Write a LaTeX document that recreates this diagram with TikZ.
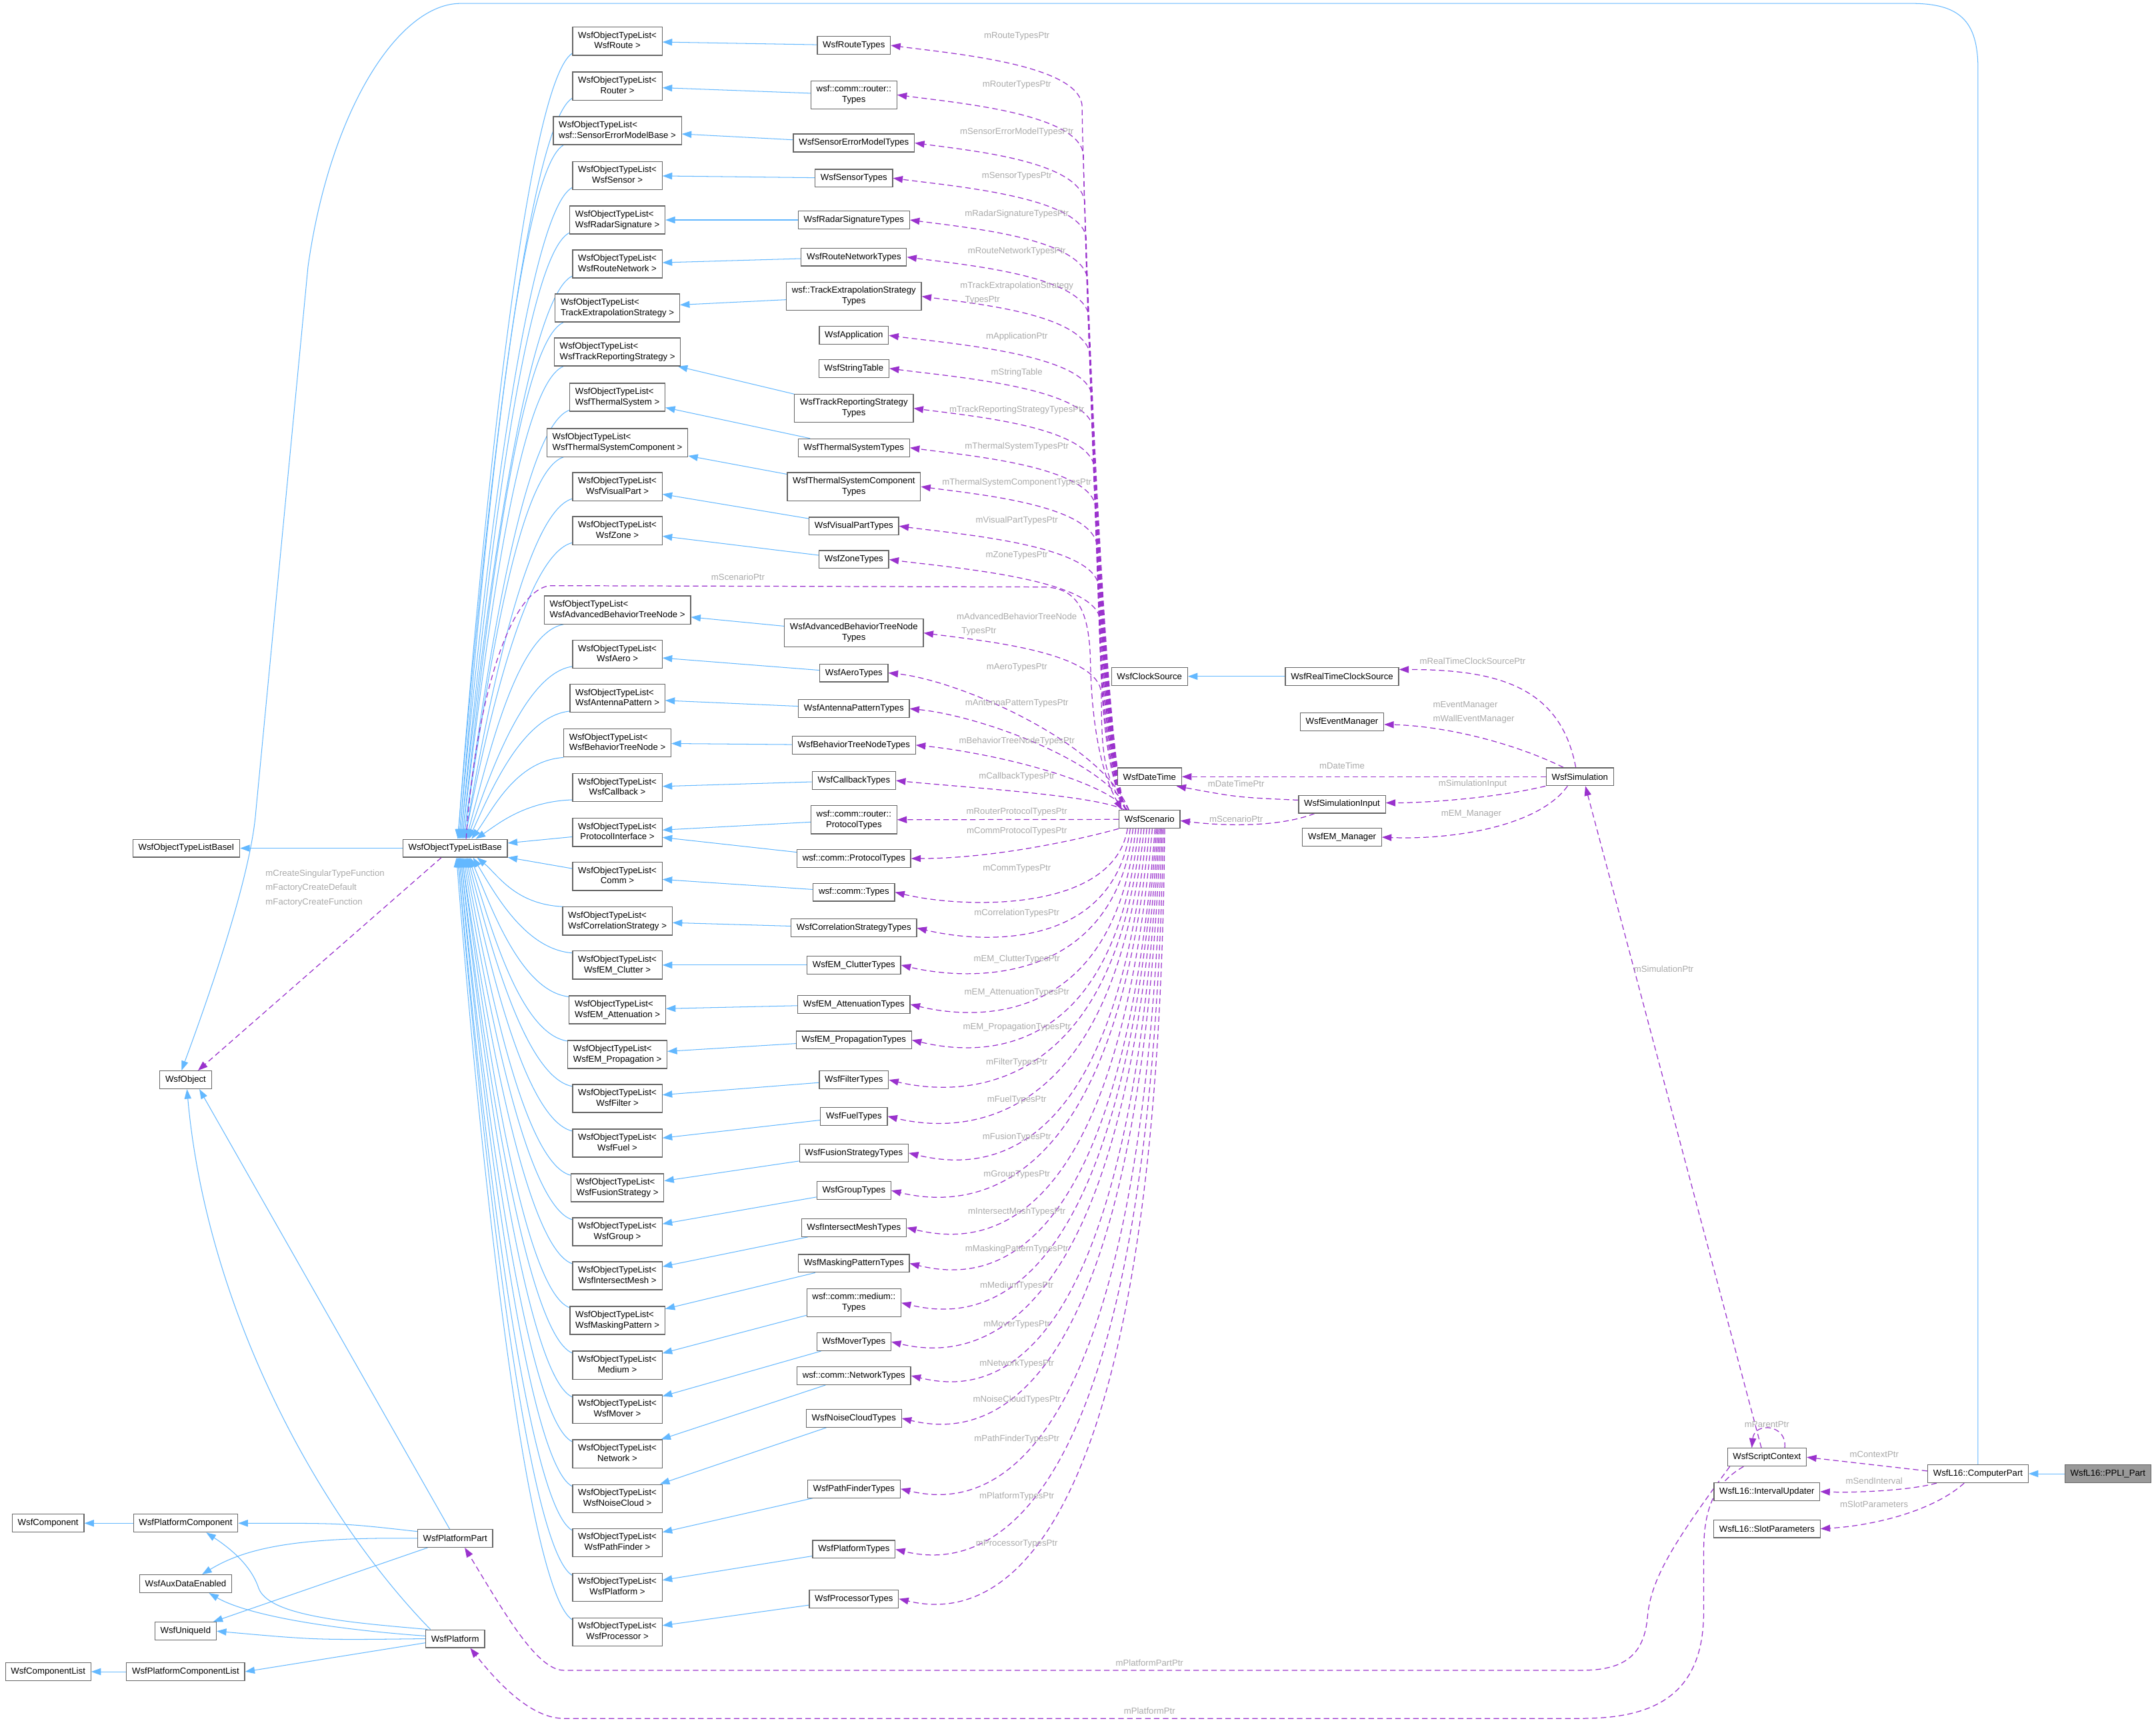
\documentclass[tikz,border=0pt]{standalone}
\usepackage{fontspec}
\setmainfont{Liberation Sans}
\usetikzlibrary{arrows.meta,calc}

\definecolor{inhblue}{HTML}{63B8FF}
\definecolor{memberpurple}{HTML}{9A32CD}
\definecolor{boxgray}{HTML}{666666}
\definecolor{lblgray}{HTML}{AAAAAA}
\definecolor{rootgray}{HTML}{999999}

\pgfdeclarelayer{bg}
\pgfdeclarelayer{edges}
\pgfsetlayers{bg,edges,main}

% template names: first line left, second line centred
\newcommand\twoln[2]{\begin{tabular}{@{}l@{}}#1\\\multicolumn{1}{@{}c@{}}{#2}\end{tabular}}

\begin{document}
\begin{tikzpicture}[
  x=1pt, y=-1pt,
  cls/.style={draw=boxgray, fill=white, line width=0.6pt,
    font=\fontsize{6.4}{7.7}\selectfont, inner xsep=4pt, inner ysep=2.5pt,
    minimum height=13pt},
  root/.style={cls, fill=rootgray},
  inherit/.style={draw=inhblue, line width=0.5pt, -{Triangle[length=7pt,width=5pt]}},
  member/.style={draw=memberpurple, line width=0.6pt, dash pattern=on 4pt off 2.5pt,
    -{Triangle[length=7pt,width=5pt]}},
  lbl/.style={text=lblgray, font=\fontsize{6.4}{10.3}\selectfont, inner sep=0pt, align=left},
  tobase/.style={to path={let \p1=(\tikztostart), \p2=(\tikztotarget) in
    .. controls ({\x1-35pt},{\y1+0.04*(\y2-\y1)}) and ({\x2+15pt},{\y2+0.35*(\y1-\y2)})
    .. (\tikztotarget) \tikztonodes}},
  fromtop/.style={to path={let \p1=(\tikztostart), \p2=(\tikztotarget) in
    .. controls ({\x1-16pt},{\y1+25pt}) and (#1pt,{\y2-90pt}) .. (#1pt,{\y2-45pt})
    .. controls (#1pt,{\y2-14pt}) and ({\x2+45pt},{\y2-6pt}) .. (\tikztotarget) \tikztonodes}},
  fromnear/.style={to path={let \p1=(\tikztostart), \p2=(\tikztotarget) in
    .. controls ({\x1-20pt},{\y1+0.5*(\y2-\y1)}) and ({\x2+50pt},{\y2-5pt})
    .. (\tikztotarget) \tikztonodes}},
  frombelow/.style={to path={let \p1=(\tikztostart), \p2=(\tikztotarget) in
    .. controls ({\x1-#1pt},{\y2-15pt}) and ({\x2+50pt},{\y2-12pt})
    .. (\tikztotarget) \tikztonodes}},
  frombelow/.default=5,
]
  \begin{pgfonlayer}{bg}
    \path[use as bounding box, fill=white] (0,0) rectangle (1568,1253);
  \end{pgfonlayer}

  % Object type list templates
  \node[cls] (tRoute)     at (449,30)    {\twoln{WsfObjectTypeList<}{WsfRoute >}};
  \node[cls] (tRouter)    at (449,62.6)  {\twoln{WsfObjectTypeList<}{Router >}};
  \node[cls] (tSensErr)   at (449,95)    {\twoln{WsfObjectTypeList<}{wsf::SensorErrorModelBase >}};
  \node[cls] (tSensor)    at (449,127.6) {\twoln{WsfObjectTypeList<}{WsfSensor >}};
  \node[cls] (tRadar)     at (449,160)   {\twoln{WsfObjectTypeList<}{WsfRadarSignature >}};
  \node[cls] (tRouteNet)  at (449,192)   {\twoln{WsfObjectTypeList<}{WsfRouteNetwork >}};
  \node[cls] (tTrackExt)  at (449,224)   {\twoln{WsfObjectTypeList<}{TrackExtrapolationStrategy >}};
  \node[cls] (tTrackRep)  at (449,256)   {\twoln{WsfObjectTypeList<}{WsfTrackReportingStrategy >}};
  \node[cls] (tThermal)   at (449,289)   {\twoln{WsfObjectTypeList<}{WsfThermalSystem >}};
  \node[cls] (tThermComp) at (449,322)   {\twoln{WsfObjectTypeList<}{WsfThermalSystemComponent >}};
  \node[cls] (tVisual)    at (449,354)   {\twoln{WsfObjectTypeList<}{WsfVisualPart >}};
  \node[cls] (tZone)      at (449,386)   {\twoln{WsfObjectTypeList<}{WsfZone >}};
  \node[cls] (tAdvBTN)    at (449,443.7) {\twoln{WsfObjectTypeList<}{WsfAdvancedBehaviorTreeNode >}};
  \node[cls] (tAero)      at (449,476)   {\twoln{WsfObjectTypeList<}{WsfAero >}};
  \node[cls] (tAntenna)   at (449,508)   {\twoln{WsfObjectTypeList<}{WsfAntennaPattern >}};
  \node[cls] (tBTN)       at (449,540.5) {\twoln{WsfObjectTypeList<}{WsfBehaviorTreeNode >}};
  \node[cls] (tCallback)  at (449,573)   {\twoln{WsfObjectTypeList<}{WsfCallback >}};
  \node[cls] (tProtoIf)   at (449,605.5) {\twoln{WsfObjectTypeList<}{ProtocolInterface >}};
  \node[cls] (tComm)      at (449,637.5) {\twoln{WsfObjectTypeList<}{Comm >}};
  \node[cls] (tCorr)      at (449,670)   {\twoln{WsfObjectTypeList<}{WsfCorrelationStrategy >}};
  \node[cls] (tClutter)   at (449,702)   {\twoln{WsfObjectTypeList<}{WsfEM\_Clutter >}};
  \node[cls] (tAtten)     at (449,734.5) {\twoln{WsfObjectTypeList<}{WsfEM\_Attenuation >}};
  \node[cls] (tPropag)    at (449,767)   {\twoln{WsfObjectTypeList<}{WsfEM\_Propagation >}};
  \node[cls] (tFilter)    at (449,799)   {\twoln{WsfObjectTypeList<}{WsfFilter >}};
  \node[cls] (tFuel)      at (449,831.5) {\twoln{WsfObjectTypeList<}{WsfFuel >}};
  \node[cls] (tFusion)    at (449,864)   {\twoln{WsfObjectTypeList<}{WsfFusionStrategy >}};
  \node[cls] (tGroup)     at (449,896)   {\twoln{WsfObjectTypeList<}{WsfGroup >}};
  \node[cls] (tInterMesh) at (449,928)   {\twoln{WsfObjectTypeList<}{WsfIntersectMesh >}};
  \node[cls] (tMasking)   at (449,960.5) {\twoln{WsfObjectTypeList<}{WsfMaskingPattern >}};
  \node[cls] (tMedium)    at (449,993)   {\twoln{WsfObjectTypeList<}{Medium >}};
  \node[cls] (tMover)     at (449,1025)  {\twoln{WsfObjectTypeList<}{WsfMover >}};
  \node[cls] (tNetwork)   at (449,1057.5){\twoln{WsfObjectTypeList<}{Network >}};
  \node[cls] (tNoise)     at (449,1090)  {\twoln{WsfObjectTypeList<}{WsfNoiseCloud >}};
  \node[cls] (tPathFind)  at (449,1122)  {\twoln{WsfObjectTypeList<}{WsfPathFinder >}};
  \node[cls] (tPlatform)  at (449,1154.7){\twoln{WsfObjectTypeList<}{WsfPlatform >}};
  \node[cls] (tProcessor) at (449,1187)  {\twoln{WsfObjectTypeList<}{WsfProcessor >}};

  % Type registries owned by the scenario
  \node[cls] (yRoute)       at (621,33)     {WsfRouteTypes};
  \node[cls] (yRouter)      at (621,69)     {\twoln{wsf::comm::router::}{Types}};
  \node[cls] (ySensErr)     at (621,104)    {WsfSensorErrorModelTypes};
  \node[cls] (ySensor)      at (621,129.6)  {WsfSensorTypes};
  \node[cls] (yRadar)       at (621,160)    {WsfRadarSignatureTypes};
  \node[cls] (yRouteNet)    at (621,187)    {WsfRouteNetworkTypes};
  \node[cls] (yTrackExt)    at (621,215.6)  {\twoln{wsf::TrackExtrapolationStrategy}{Types}};
  \node[cls] (yApp)         at (621,244)    {WsfApplication};
  \node[cls] (yString)      at (621,268)    {WsfStringTable};
  \node[cls] (yTrackRep)    at (621,297)    {\twoln{WsfTrackReportingStrategy}{Types}};
  \node[cls] (yThermal)     at (621,325.7)  {WsfThermalSystemTypes};
  \node[cls] (yThermComp)   at (621,354)    {\twoln{WsfThermalSystemComponent}{Types}};
  \node[cls] (yVisual)      at (621,382.7)  {WsfVisualPartTypes};
  \node[cls] (yZone)        at (621,407)    {WsfZoneTypes};
  \node[cls] (yAdvBTN)      at (621,460.4)  {\twoln{WsfAdvancedBehaviorTreeNode}{Types}};
  \node[cls] (yAero)        at (621,489.5)  {WsfAeroTypes};
  \node[cls] (yAntenna)     at (621,515.5)  {WsfAntennaPatternTypes};
  \node[cls] (yBTN)         at (621,542)    {WsfBehaviorTreeNodeTypes};
  \node[cls] (yCallback)    at (621,567.8)  {WsfCallbackTypes};
  \node[cls] (yRouterProto) at (621,596.3)  {\twoln{wsf::comm::router::}{ProtocolTypes}};
  \node[cls] (yCommProto)   at (621,624.5)  {wsf::comm::ProtocolTypes};
  \node[cls] (yComm)        at (621,649)    {wsf::comm::Types};
  \node[cls] (yCorr)        at (621,675)    {WsfCorrelationStrategyTypes};
  \node[cls] (yClutter)     at (621,702)    {WsfEM\_ClutterTypes};
  \node[cls] (yAtten)       at (621,730.6)  {WsfEM\_AttenuationTypes};
  \node[cls] (yPropag)      at (621,756.5)  {WsfEM\_PropagationTypes};
  \node[cls] (yFilter)      at (621,785.5)  {WsfFilterTypes};
  \node[cls] (yFuel)        at (621,812)    {WsfFuelTypes};
  \node[cls] (yFusion)      at (621,838.7)  {WsfFusionStrategyTypes};
  \node[cls] (yGroup)       at (621,866)    {WsfGroupTypes};
  \node[cls] (yInterMesh)   at (621,893)    {WsfIntersectMeshTypes};
  \node[cls] (yMasking)     at (621,919)    {WsfMaskingPatternTypes};
  \node[cls] (yMedium)      at (621,947.7)  {\twoln{wsf::comm::medium::}{Types}};
  \node[cls] (yMover)       at (621,976)    {WsfMoverTypes};
  \node[cls] (yNetwork)     at (621,1000.7) {wsf::comm::NetworkTypes};
  \node[cls] (yNoise)       at (621,1031.7) {WsfNoiseCloudTypes};
  \node[cls] (yPathFind)    at (621,1083)   {WsfPathFinderTypes};
  \node[cls] (yPlatform)    at (621,1127)   {WsfPlatformTypes};
  \node[cls] (yProcessor)   at (621,1163)   {WsfProcessorTypes};

  % Base classes on the left
  \node[cls] (base)   at (331,617)    {WsfObjectTypeListBase};
  \node[cls] (baseI)  at (135.5,617)  {WsfObjectTypeListBaseI};
  \node[cls] (obj)    at (135,785.5)  {WsfObject};
  \node[cls] (comp)   at (35,1108)    {WsfComponent};
  \node[cls] (pcomp)  at (135,1108)   {WsfPlatformComponent};
  \node[cls] (ppart)  at (331,1119)   {WsfPlatformPart};
  \node[cls] (aux)    at (135,1152)   {WsfAuxDataEnabled};
  \node[cls] (uid)    at (135,1186.5) {WsfUniqueId};
  \node[cls] (plat)   at (331,1192)   {WsfPlatform};
  \node[cls] (clist)  at (35,1216)    {WsfComponentList};
  \node[cls] (pclist) at (135,1216)   {WsfPlatformComponentList};

  % Scenario and simulation
  \node[cls] (scen)    at (836,596) {WsfScenario};
  \node[cls] (clock)   at (836,492) {WsfClockSource};
  \node[cls] (rtclock) at (976,492) {WsfRealTimeClockSource};
  \node[cls] (evmgr)   at (976,525) {WsfEventManager};
  \node[cls] (dtime)   at (836,565) {WsfDateTime};
  \node[cls] (sim)     at (1149,565) {WsfSimulation};
  \node[cls] (siminp)  at (976,585) {WsfSimulationInput};
  \node[cls] (emmgr)   at (976,609) {WsfEM\_Manager};

  % Link 16 parts
  \node[cls]  (sctx)  at (1285,1060)   {WsfScriptContext};
  \node[cls]  (cpart) at (1438.5,1072) {WsfL16::ComputerPart};
  \node[root] (ppli)  at (1533,1072)   {WsfL16::PPLI\_Part};
  \node[cls]  (ivupd) at (1285,1085)   {WsfL16::IntervalUpdater};
  \node[cls]  (slotp) at (1285,1112)   {WsfL16::SlotParameters};

  \begin{pgfonlayer}{edges}
  % Types -> templates
  \draw[inherit] (yRoute) -- (tRoute);
  \draw[inherit] (yRouter) -- (tRouter);
  \draw[inherit] (ySensErr) -- (tSensErr);
  \draw[inherit] (ySensor) -- (tSensor);
  \draw[inherit] (yRadar) -- (tRadar);
  \draw[inherit] (yRouteNet) -- (tRouteNet);
  \draw[inherit] (yTrackExt) -- (tTrackExt);
  \draw[inherit] (yTrackRep) -- (tTrackRep);
  \draw[inherit] (yThermal) -- (tThermal);
  \draw[inherit] (yThermComp) -- (tThermComp);
  \draw[inherit] (yVisual) -- (tVisual);
  \draw[inherit] (yZone) -- (tZone);
  \draw[inherit] (yAdvBTN) -- (tAdvBTN);
  \draw[inherit] (yAero) -- (tAero);
  \draw[inherit] (yAntenna) -- (tAntenna);
  \draw[inherit] (yBTN) -- (tBTN);
  \draw[inherit] (yCallback) -- (tCallback);
  \draw[inherit] (yRouterProto) -- (tProtoIf);
  \draw[inherit] (yCommProto) -- (tProtoIf);
  \draw[inherit] (yComm) -- (tComm);
  \draw[inherit] (yCorr) -- (tCorr);
  \draw[inherit] (yClutter) -- (tClutter);
  \draw[inherit] (yAtten) -- (tAtten);
  \draw[inherit] (yPropag) -- (tPropag);
  \draw[inherit] (yFilter) -- (tFilter);
  \draw[inherit] (yFuel) -- (tFuel);
  \draw[inherit] (yFusion) -- (tFusion);
  \draw[inherit] (yGroup) -- (tGroup);
  \draw[inherit] (yInterMesh) -- (tInterMesh);
  \draw[inherit] (yMasking) -- (tMasking);
  \draw[inherit] (yMedium) -- (tMedium);
  \draw[inherit] (yMover) -- (tMover);
  \draw[inherit] (yNetwork) -- (tNetwork);
  \draw[inherit] (yNoise) -- (tNoise);
  \draw[inherit] (yPathFind) -- (tPathFind);
  \draw[inherit] (yPlatform) -- (tPlatform);
  \draw[inherit] (yProcessor) -- (tProcessor);

  % Templates -> WsfObjectTypeListBase
  \draw[inherit] (tRoute.195) to[tobase] ([xshift=2]base.north);
  \draw[inherit] (tRouter.195) to[tobase] ([xshift=2]base.north);
  \draw[inherit] (tSensErr.195) to[tobase] ([xshift=3]base.north);
  \draw[inherit] (tSensor.195) to[tobase] ([xshift=3]base.north);
  \draw[inherit] (tRadar.195) to[tobase] ([xshift=4]base.north);
  \draw[inherit] (tRouteNet.195) to[tobase] ([xshift=4]base.north);
  \draw[inherit] (tTrackExt.195) to[tobase] ([xshift=5]base.north);
  \draw[inherit] (tTrackRep.195) to[tobase] ([xshift=5]base.north);
  \draw[inherit] (tThermal.195) to[tobase] ([xshift=6]base.north);
  \draw[inherit] (tThermComp.195) to[tobase] ([xshift=6]base.north);
  \draw[inherit] (tVisual.195) to[tobase] ([xshift=7]base.north);
  \draw[inherit] (tZone.195) to[tobase] ([xshift=7]base.north);
  \draw[inherit] (tAdvBTN.195) to[tobase] ([xshift=8]base.north);
  \draw[inherit] (tAero.195) to[tobase] ([xshift=9]base.north);
  \draw[inherit] (tAntenna.195) to[tobase] ([xshift=10]base.north);
  \draw[inherit] (tBTN.195) to[tobase] ([xshift=12]base.north);
  \draw[inherit] (tCallback.195) to[tobase] ([xshift=15]base.north);
  \draw[inherit] (tProtoIf) -- (base);
  \draw[inherit] (tComm) -- (base);
  \draw[inherit] (tCorr.165) to[tobase] ([xshift=16]base.south);
  \draw[inherit] (tClutter.165) to[tobase] ([xshift=13]base.south);
  \draw[inherit] (tAtten.165) to[tobase] ([xshift=11]base.south);
  \draw[inherit] (tPropag.165) to[tobase] ([xshift=10]base.south);
  \draw[inherit] (tFilter.165) to[tobase] ([xshift=9]base.south);
  \draw[inherit] (tFuel.165) to[tobase] ([xshift=8]base.south);
  \draw[inherit] (tFusion.165) to[tobase] ([xshift=7]base.south);
  \draw[inherit] (tGroup.165) to[tobase] ([xshift=6]base.south);
  \draw[inherit] (tInterMesh.165) to[tobase] ([xshift=5]base.south);
  \draw[inherit] (tMasking.165) to[tobase] ([xshift=5]base.south);
  \draw[inherit] (tMedium.165) to[tobase] ([xshift=4]base.south);
  \draw[inherit] (tMover.165) to[tobase] ([xshift=4]base.south);
  \draw[inherit] (tNetwork.165) to[tobase] ([xshift=3]base.south);
  \draw[inherit] (tNoise.165) to[tobase] ([xshift=3]base.south);
  \draw[inherit] (tPathFind.165) to[tobase] ([xshift=2]base.south);
  \draw[inherit] (tPlatform.165) to[tobase] ([xshift=2]base.south);
  \draw[inherit] (tProcessor.165) to[tobase] ([xshift=1]base.south);

  % Other inheritance
  \draw[inherit] (base) -- (baseI);
  \draw[inherit] (rtclock) -- (clock);
  \draw[inherit] (ppli) -- (cpart);
  \draw[inherit] (pcomp) -- (comp);
  \draw[inherit] (pclist) -- (clist);
  \draw[inherit] (cpart.north) -- (1438.5,50) .. controls (1438.5,15) and (1425,2.5) .. (1390,2.5)
    -- (335,2.5) .. controls (290,2.5) and (240,80) .. (224,194) -- (186,591)
    .. controls (182,640) and (150,730) .. ([xshift=-3]obj.north);
  \draw[inherit] ([xshift=-4]ppart.north) -- ([xshift=10]obj.south);
  \draw[inherit] ([xshift=-18]plat.north) .. controls (230,1100) and (150,950) .. ([xshift=1]obj.south);
  \draw[inherit] ([yshift=5]ppart.west) .. controls (250,1108) .. (pcomp.east);
  \draw[inherit] (ppart.west) .. controls (220,1118) and (180,1125) .. ([xshift=12]aux.north);
  \draw[inherit] ([xshift=-20]ppart.south) -- ([xshift=20]uid.north);
  \draw[inherit] ([xshift=-20]plat.north) .. controls (250,1180) and (195,1175) .. (188,1155)
    .. controls (183,1140) and (170,1128) .. ([xshift=15]pcomp.south);
  \draw[inherit] ([yshift=2]plat.west) .. controls (240,1185) and (180,1175) .. ([xshift=17]aux.south);
  \draw[inherit] (plat.west) .. controls (230,1193) .. (uid.east);
  \draw[inherit] ([yshift=-3]plat.west) -- (pclist.east);

  % Scenario members
  \draw[member] ([xshift=-17]scen.north) to[fromtop=787] (yRoute.east);
  \draw[member] ([xshift=-17]scen.north) to[fromtop=788] (yRouter.east);
  \draw[member] ([xshift=-17]scen.north) to[fromtop=789] (ySensErr.east);
  \draw[member] ([xshift=-17]scen.north) to[fromtop=790] (ySensor.east);
  \draw[member] ([xshift=-17]scen.north) to[fromtop=791] (yRadar.east);
  \draw[member] ([xshift=-17]scen.north) to[fromtop=792] (yRouteNet.east);
  \draw[member] ([xshift=-17]scen.north) to[fromtop=793] (yTrackExt.east);
  \draw[member] ([xshift=-17]scen.north) to[fromtop=794] (yApp.east);
  \draw[member] ([xshift=-17]scen.north) to[fromtop=795] (yString.east);
  \draw[member] ([xshift=-17]scen.north) to[fromtop=796] (yTrackRep.east);
  \draw[member] ([xshift=-17]scen.north) to[fromtop=797] (yThermal.east);
  \draw[member] ([xshift=-17]scen.north) to[fromtop=798] (yThermComp.east);
  \draw[member] ([xshift=-17]scen.north) to[fromtop=799] (yVisual.east);
  \draw[member] ([xshift=-17]scen.north) to[fromtop=800] (yZone.east);
  \draw[member] ([xshift=-17]scen.north) to[fromtop=801] (yAdvBTN.east);
  \draw[member] ([xshift=-15]scen.north) to[fromnear] (yAero.east);
  \draw[member] ([xshift=-15]scen.north) to[fromnear] (yAntenna.east);
  \draw[member] ([xshift=-16]scen.north) to[fromnear] (yBTN.east);
  \draw[member] ([xshift=-18]scen.north) to[fromnear] (yCallback.east);
  \draw[member] (scen) -- (yRouterProto);
  \draw[member] (scen.south west) .. controls (780,612) and (720,624.5) .. (yCommProto.east);
  \draw[member] ([xshift=-16]scen.south) to[frombelow=10] (yComm.east);
  \draw[member] ([xshift=-14]scen.south) to[frombelow=12] (yCorr.east);
  \draw[member] ([xshift=-12]scen.south) to[frombelow=14] (yClutter.east);
  \draw[member] ([xshift=-10]scen.south) to[frombelow=16] (yAtten.east);
  \draw[member] ([xshift=-8]scen.south) to[frombelow=18] (yPropag.east);
  \draw[member] ([xshift=-6]scen.south) to[frombelow=20] (yFilter.east);
  \draw[member] ([xshift=-4]scen.south) to[frombelow=22] (yFuel.east);
  \draw[member] ([xshift=-2]scen.south) to[frombelow=24] (yFusion.east);
  \draw[member] (scen.south) to[frombelow=25] (yGroup.east);
  \draw[member] ([xshift=2]scen.south) to[frombelow=26] (yInterMesh.east);
  \draw[member] ([xshift=4]scen.south) to[frombelow=26] (yMasking.east);
  \draw[member] ([xshift=5]scen.south) to[frombelow=25] (yMedium.east);
  \draw[member] ([xshift=6]scen.south) to[frombelow=22] (yMover.east);
  \draw[member] ([xshift=7]scen.south) to[frombelow=20] (yNetwork.east);
  \draw[member] ([xshift=8]scen.south) to[frombelow=17] (yNoise.east);
  \draw[member] ([xshift=9]scen.south) to[frombelow=13] (yPathFind.east);
  \draw[member] ([xshift=10]scen.south) to[frombelow=9] (yPlatform.east);
  \draw[member] ([xshift=11]scen.south) to[frombelow] (yProcessor.east);

  % Other members
  \draw[member] ([xshift=8]base.north) .. controls (345,520) and (368,430) .. (400,426) -- (760,427)
    .. controls (784,428) and (792,445) .. (793,480) .. controls (794,540) and (805,570) .. ([xshift=-20]scen.north);
  \draw[member] ([xshift=-10]base.south) -- ([xshift=9]obj.north);
  \draw[member] ([xshift=-3]sim.north) .. controls (1135,500) and (1090,487) .. ([yshift=5]rtclock.east);
  \draw[member] ([xshift=-12]sim.north) .. controls (1100,540) and (1050,528) .. ([yshift=-2]evmgr.east);
  \draw[member] (sim) -- (dtime);
  \draw[member] ([xshift=-25]sim.south) .. controls (1090,580) and (1040,584) .. ([yshift=1]siminp.east);
  \draw[member] ([xshift=-9]sim.south) .. controls (1120,600) and (1060,611) .. (emmgr.east);
  \draw[member] ([yshift=3]siminp.west) .. controls (900,580) .. ([xshift=-4]dtime.south east);
  \draw[member] ([xshift=-20]siminp.south) .. controls (935,600) and (900,602) .. ([yshift=-1]scen.east);
  \draw[member] ([xshift=-4]sctx.north) -- ([xshift=4]sim.south);
  \draw[member] ([xshift=13]sctx.north) .. controls (1300,1036) and (1276,1034) .. ([xshift=-11]sctx.north);
  \draw[member] ([yshift=2]cpart.west) -- (sctx.east);
  \draw[member] ([xshift=-30]cpart.south) .. controls (1390,1084) and (1350,1086) .. (ivupd.east);
  \draw[member] ([xshift=-10]cpart.south) .. controls (1405,1100) and (1360,1110) .. (slotp.east);
  \draw[member] ([xshift=2]sctx.south west) .. controls (1215,1125) and (1200,1150) .. (1198,1178)
    .. controls (1195,1205) and (1180,1215) .. (1150,1215) -- (410,1215)
    .. controls (390,1215) and (365,1170) .. ([xshift=7]ppart.south);
  \draw[member] ([xshift=12]sctx.south west) .. controls (1245,1080) and (1239,1100) .. (1239,1130)
    -- (1239,1175) .. controls (1238,1235) and (1200,1250) .. (1150,1250) -- (410,1250)
    .. controls (388,1250) and (365,1228) .. ([xshift=11]plat.south);
  \end{pgfonlayer}

  % Member labels
  \node[lbl] (lRoute)       at (739.5,26.4)  {mRouteTypesPtr};
  \node[lbl] (lRouter)      at (739.5,61.9)  {mRouterTypesPtr};
  \node[lbl] (lSensErr)     at (739.5,96)    {mSensorErrorModelTypesPtr};
  \node[lbl] (lSensor)      at (739.5,128)   {mSensorTypesPtr};
  \node[lbl] (lRadar)       at (739.5,155.8) {mRadarSignatureTypesPtr};
  \node[lbl] (lRouteNet)    at (739.5,182.6) {mRouteNetworkTypesPtr};
  \node[lbl] (lTrackExt)    at (739.5,213)   {mTrackExtrapolationStrategy\\\hspace*{3.5pt}TypesPtr};
  \node[lbl] (lApp)         at (739.5,245)   {mApplicationPtr};
  \node[lbl] (lString)      at (739.5,271)   {mStringTable};
  \node[lbl] (lTrackRep)    at (739.5,298)   {mTrackReportingStrategyTypesPtr};
  \node[lbl] (lThermal)     at (739.5,325.1) {mThermalSystemTypesPtr};
  \node[lbl] (lThermComp)   at (739.5,350.9) {mThermalSystemComponentTypesPtr};
  \node[lbl] (lVisual)      at (739.5,378.5) {mVisualPartTypesPtr};
  \node[lbl] (lZone)        at (739.5,404.2) {mZoneTypesPtr};
  \node[lbl] (lAdvBTN)      at (739.5,454)   {mAdvancedBehaviorTreeNode\\\hspace*{3.5pt}TypesPtr};
  \node[lbl] (lAero)        at (739.5,485.7) {mAeroTypesPtr};
  \node[lbl] (lAntenna)     at (739.5,511.9) {mAntennaPatternTypesPtr};
  \node[lbl] (lBTN)         at (739.5,539.2) {mBehaviorTreeNodeTypesPtr};
  \node[lbl] (lCallback)    at (739.5,564.8) {mCallbackTypesPtr};
  \node[lbl] (lRouterProto) at (739.5,590.5) {mRouterProtocolTypesPtr};
  \node[lbl] (lCommProto)   at (739.5,604.6) {mCommProtocolTypesPtr};
  \node[lbl] (lComm)        at (739.5,631.8) {mCommTypesPtr};
  \node[lbl] (lCorr)        at (739.5,664.2) {mCorrelationTypesPtr};
  \node[lbl] (lClutter)     at (739.5,697.8) {mEM\_ClutterTypesPtr};
  \node[lbl] (lAtten)       at (739.5,721.9) {mEM\_AttenuationTypesPtr};
  \node[lbl] (lPropag)      at (739.5,747.3) {mEM\_PropagationTypesPtr};
  \node[lbl] (lFilter)      at (739.5,772.8) {mFilterTypesPtr};
  \node[lbl] (lFuel)        at (739.5,800)   {mFuelTypesPtr};
  \node[lbl] (lFusion)      at (739.5,827.2) {mFusionTypesPtr};
  \node[lbl] (lGroup)       at (739.5,854.3) {mGroupTypesPtr};
  \node[lbl] (lInterMesh)   at (739.5,881.5) {mIntersectMeshTypesPtr};
  \node[lbl] (lMasking)     at (739.5,908.6) {mMaskingPatternTypesPtr};
  \node[lbl] (lMedium)      at (739.5,935.5) {mMediumTypesPtr};
  \node[lbl] (lMover)       at (739.5,963.3) {mMoverTypesPtr};
  \node[lbl] (lNetwork)     at (739.5,991.8) {mNetworkTypesPtr};
  \node[lbl] (lNoise)       at (739.5,1018.4){mNoiseCloudTypesPtr};
  \node[lbl] (lPathFind)    at (739.5,1046.6){mPathFinderTypesPtr};
  \node[lbl] (lPlatform)    at (739.5,1088.4){mPlatformTypesPtr};
  \node[lbl] (lProcessor)   at (739.5,1123.2){mProcessorTypesPtr};

  \node[lbl] (lScenBase) at (536.7,420) {mScenarioPtr};
  \node[lbl, anchor=west] (lFactory) at (193,646)
    {mCreateSingularTypeFunction\\mFactoryCreateDefault\\mFactoryCreateFunction};
  \node[lbl] (lRTClock) at (1071,481) {mRealTimeClockSourcePtr};
  \node[lbl, anchor=west] (lEvMgr) at (1042,518.3) {mEventManager\\mWallEventManager};
  \node[lbl] (lDateTime)    at (976,557)  {mDateTime};
  \node[lbl] (lDateTimePtr) at (899,570)  {mDateTimePtr};
  \node[lbl] (lSimInput)    at (1071,570) {mSimulationInput};
  \node[lbl] (lScenSim)     at (899,596)  {mScenarioPtr};
  \node[lbl] (lEMMgr)       at (1070,592) {mEM\_Manager};
  \node[lbl] (lSimPtr)      at (1210,705) {mSimulationPtr};
  \node[lbl] (lParent)      at (1285,1036) {mParentPtr};
  \node[lbl] (lContext)     at (1363,1058) {mContextPtr};
  \node[lbl] (lSend)        at (1363,1077) {mSendInterval};
  \node[lbl] (lSlot)        at (1363,1094) {mSlotParameters};
  \node[lbl] (lPPart)       at (836,1209.6) {mPlatformPartPtr};
  \node[lbl] (lPlat)        at (836,1244.3) {mPlatformPtr};
\end{tikzpicture}
\end{document}
